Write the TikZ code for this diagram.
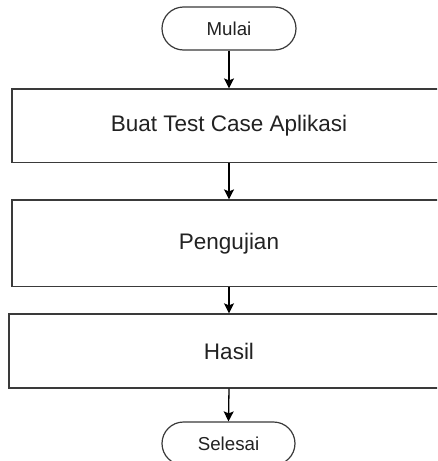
\documentclass[tikz,border=0pt]{standalone}
\usepackage{fontspec}
\setmainfont{Liberation Sans}
\usetikzlibrary{arrows.meta}
\definecolor{txt}{HTML}{222222}
\definecolor{edge}{HTML}{3A3A3A}
\begin{document}
\begin{tikzpicture}[x=1pt,y=-1pt,
  procbox/.style={draw=edge,line width=1.3pt,fill=white,rectangle,inner sep=0pt,
    text=txt,font=\fontsize{22.5}{27}\selectfont},
  termbox/.style={draw=edge,line width=1.2pt,fill=white,rectangle,rounded corners=21.5pt,
    inner sep=0pt,minimum width=134pt,minimum height=43pt,text=txt,font=\fontsize{18.7}{22}\selectfont},
  flow/.style={draw=black,line width=1.3pt,-{Stealth[length=10pt,width=10pt,inset=2pt]}}]
\clip (0,0) rectangle (437,461);
\fill[white] (0,0) rectangle (437,461);
\node[termbox] (start) at (229,28.5) {Mulai};
\node[procbox,minimum width=434pt,minimum height=73.7pt] (b1) at (229,125.9) {Buat Test Case Aplikasi};
\node[procbox,minimum width=434pt,minimum height=86.7pt] (b2) at (229,243.4) {Pengujian};
\node[procbox,minimum width=440pt,minimum height=74pt] (b3) at (229,351) {Hasil};
\node[termbox,minimum width=133pt] (end) at (228.5,443.5) {Selesai};
\draw[flow] (start.south) -- (b1.north);
\draw[flow] (b1.south) -- (b2.north);
\draw[flow] (b2.south) -- (b3.north);
\draw[flow] (b3.south) -- (end.north);
\end{tikzpicture}
\end{document}
